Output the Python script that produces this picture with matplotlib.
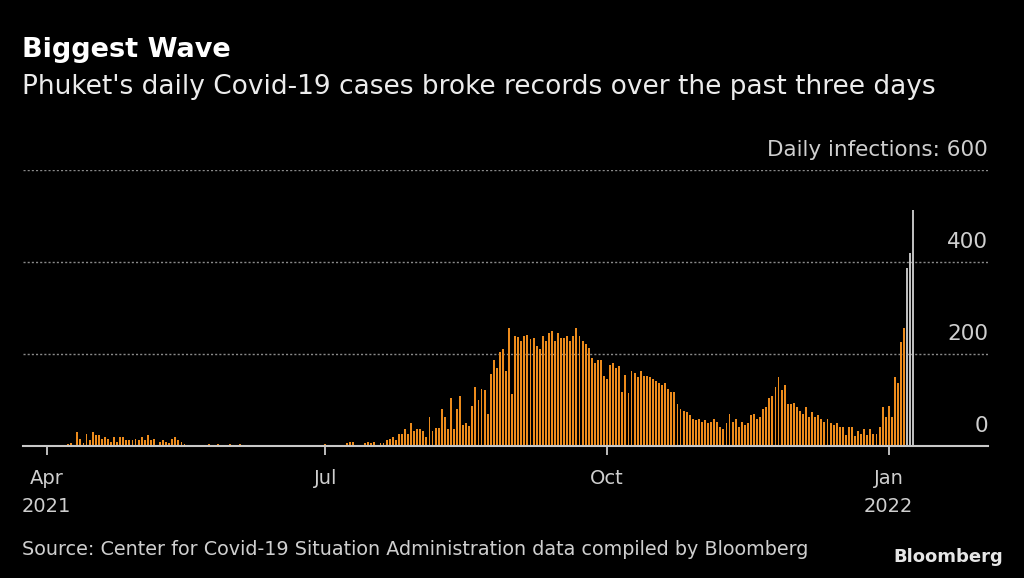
import numpy as np
import pandas as pd
import matplotlib
matplotlib.use("Agg")
import matplotlib.pyplot as plt
import matplotlib.dates as mdates

# Daily new cases in Phuket
casos_abr_jun = [0, 0, 0, 0, 0, 0, 0, 4, 6, 3, 30, 16, 6, 27, 12, 30, 23, 23, 16, 20,
                 16, 9, 20, 9, 20, 20, 12, 12, 12, 16, 12, 20, 12, 23, 12, 16, 3, 9, 12, 9,
                 6, 16, 20, 12, 9, 4, 2, 2, 2, 2, 0, 2, 2, 5, 2, 2, 5, 2, 2, 2,
                 5, 2, 2, 5, 0, 0, 0, 0, 3, 0, 0, 0, 0, 0, 0, 2, 2, 2, 2, 2,
                 2, 2, 2, 2, 2, 2, 2, 0, 0, 2, 2]
casos_jul_sep = [4, 2, 2, 2, 2, 2, 2, 6, 9, 9, 2, 0, 0, 6, 9, 6, 9, 0, 6, 6,
                 12, 16, 20, 13, 26, 26, 36, 26, 49, 33, 37, 37, 33, 19, 63, 33, 40, 40, 80, 63,
                 37, 104, 37, 80, 108, 46, 50, 43, 88, 129, 101, 125, 122, 70, 156, 187, 170, 204, 211, 163,
                 256, 114, 239, 236, 228, 239, 242, 232, 235, 218, 211, 239, 228, 246, 249, 228, 246, 235, 235, 239,
                 228, 239, 256, 239, 228, 222, 214, 191, 180, 187, 187, 153]
casos_oct_dic = [146, 177, 180, 170, 173, 118, 155, 115, 163, 159, 149, 163, 153, 153, 149, 146, 142, 138, 132, 138,
                 125, 118, 118, 91, 80, 77, 73, 67, 59, 57, 59, 53, 57, 49, 53, 59, 53, 42, 36, 49,
                 70, 53, 59, 42, 53, 46, 49, 67, 70, 59, 63, 80, 84, 104, 108, 128, 149, 122, 132, 91,
                 91, 94, 84, 77, 70, 84, 63, 73, 63, 67, 59, 53, 59, 49, 46, 49, 42, 42, 25, 42,
                 42, 21, 32, 27, 36, 25, 36, 27, 27, 42, 84, 63]
casos_ene = [86, 64, 151, 136, 226, 257, 388, 419, 514]

N_RECORD = 3  # last days highlighted in gray
TICKS_Y = [0, 200, 400, 600]
ETIQ_Y = ["0", "200", "400", "Daily infections: 600"]
TICKS_X = ["2021-04-01", "2021-07-01", "2021-10-01", "2022-01-01"]
ETIQ_X = ["Apr\n2021", "Jul", "Oct", "Jan\n2022"]

NARANJA = "#ec8b1c"
GRIS = "#bdbdbd"
TEXTO = "#cfcfcf"

casos = casos_abr_jun + casos_jul_sep + casos_oct_dic + casos_ene
fechas = pd.date_range("2021-04-01", periods=len(casos), freq="D")
colores = [NARANJA] * (len(casos) - N_RECORD) + [GRIS] * N_RECORD

W, H = 1024, 578
fig = plt.figure(figsize=(W / 100, H / 100), dpi=100, facecolor="black")
ax = fig.add_axes([23 / W, 1 - 446 / H, (988 - 23) / W, (446 - 170) / H])
ax.set_facecolor("black")

for v in TICKS_Y[1:]:
    ax.axhline(v, color="#8a8a8a", lw=1, ls=(0, (1.5, 1.5)), zorder=0)

ax.bar(fechas, casos, width=0.62, color=colores, zorder=2)

ax.set_ylim(0, 600)
ax.set_xlim(mdates.date2num(pd.Timestamp("2021-03-24 06:00")),
            mdates.date2num(pd.Timestamp("2022-02-02 10:00")))

for s in ["top", "left", "right"]:
    ax.spines[s].set_visible(False)
ax.spines["bottom"].set_color("#c8c8c8")
ax.spines["bottom"].set_linewidth(1.5)
ax.spines["bottom"].set_zorder(3)

ax.set_yticks([])
ax.set_xticks(pd.to_datetime(TICKS_X), ETIQ_X)
ax.tick_params(axis="x", length=6.5, width=1.4, color="#bdbdbd", pad=10,
               labelsize=14, labelcolor=TEXTO)
for lab in ax.get_xticklabels():
    lab.set_linespacing(1.6)

for v, txt in zip(TICKS_Y, ETIQ_Y):
    ax.annotate(txt, xy=(1, v), xycoords=("axes fraction", "data"),
                xytext=(0, 10), textcoords="offset points",
                ha="right", va="baseline", fontsize=15.5, color=TEXTO)

fig.text(22 / W, 1 - 57 / H, "Biggest Wave", fontsize=19.5, weight="bold",
         color="white", va="baseline")
fig.text(22 / W, 1 - 94 / H,
         "Phuket's daily Covid-19 cases broke records over the past three days",
         fontsize=19, color="#ececec", va="baseline")
fig.text(22 / W, 1 - 555 / H,
         "Source: Center for Covid-19 Situation Administration data compiled by Bloomberg",
         fontsize=13.8, color=TEXTO, va="baseline")
fig.text(1003 / W, 1 - 562 / H, "Bloomberg", fontsize=13, weight="bold",
         color="#e6e6e6", ha="right", va="baseline")

fig.savefig("out.png", dpi=100, facecolor="black")
